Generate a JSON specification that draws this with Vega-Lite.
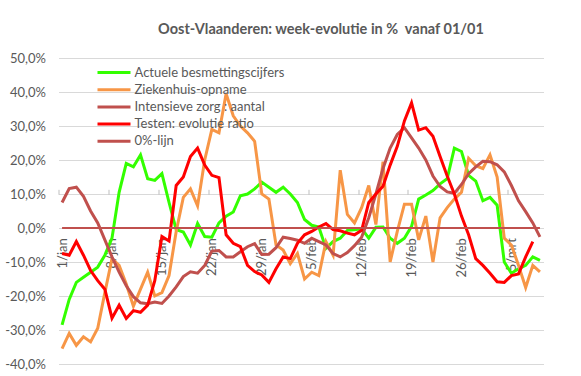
{
  "$schema": "https://vega.github.io/schema/vega-lite/v6.json",
  "width": 485,
  "height": 306,
  "autosize": "none",
  "padding": {"left": 58.5, "top": 58, "right": 37.5, "bottom": 12},
  "background": "white",
  "config": {"font": "Lato", "view": {"stroke": null}},
  "title": {"text": "Oost-Vlaanderen: week-evolutie in %\u00a0 vanaf 01/01", "fontSize": 14.5, "fontWeight": "bold", "color": "#595959", "anchor": "middle", "offset": 15, "dx": 20, "font": "Lato"},
  "data": {"values": [
    {"datum":"1/jan","Actuele besmettingscijfers":-28.5,"Ziekenhuis-opname":-35.5,"Intensieve zorg : aantal":7.5,"Testen: evolutie ratio":-7.5,"0%-lijn":0},
    {"datum":"2/jan","Actuele besmettingscijfers":-21,"Ziekenhuis-opname":-31,"Intensieve zorg : aantal":11.6,"Testen: evolutie ratio":-8,"0%-lijn":0},
    {"datum":"3/jan","Actuele besmettingscijfers":-16,"Ziekenhuis-opname":-34.5,"Intensieve zorg : aantal":12,"Testen: evolutie ratio":-4,"0%-lijn":0},
    {"datum":"4/jan","Actuele besmettingscijfers":-14.5,"Ziekenhuis-opname":-32,"Intensieve zorg : aantal":9.3,"Testen: evolutie ratio":-8,"0%-lijn":0},
    {"datum":"5/jan","Actuele besmettingscijfers":-13,"Ziekenhuis-opname":-33.5,"Intensieve zorg : aantal":5,"Testen: evolutie ratio":-12.5,"0%-lijn":0},
    {"datum":"6/jan","Actuele besmettingscijfers":-11.5,"Ziekenhuis-opname":-29.5,"Intensieve zorg : aantal":1.5,"Testen: evolutie ratio":-15.5,"0%-lijn":0},
    {"datum":"7/jan","Actuele besmettingscijfers":-8,"Ziekenhuis-opname":-19,"Intensieve zorg : aantal":-3.5,"Testen: evolutie ratio":-18,"0%-lijn":0},
    {"datum":"8/jan","Actuele besmettingscijfers":-3,"Ziekenhuis-opname":-9,"Intensieve zorg : aantal":-8.5,"Testen: evolutie ratio":-26.5,"0%-lijn":0},
    {"datum":"9/jan","Actuele besmettingscijfers":10.5,"Ziekenhuis-opname":-11,"Intensieve zorg : aantal":-13,"Testen: evolutie ratio":-22.7,"0%-lijn":0},
    {"datum":"10/jan","Actuele besmettingscijfers":19,"Ziekenhuis-opname":-16.5,"Intensieve zorg : aantal":-17,"Testen: evolutie ratio":-26.6,"0%-lijn":0},
    {"datum":"11/jan","Actuele besmettingscijfers":18,"Ziekenhuis-opname":-23,"Intensieve zorg : aantal":-20.2,"Testen: evolutie ratio":-24.3,"0%-lijn":0},
    {"datum":"12/jan","Actuele besmettingscijfers":21.5,"Ziekenhuis-opname":-18,"Intensieve zorg : aantal":-22,"Testen: evolutie ratio":-24.8,"0%-lijn":0},
    {"datum":"13/jan","Actuele besmettingscijfers":14.5,"Ziekenhuis-opname":-13,"Intensieve zorg : aantal":-22.3,"Testen: evolutie ratio":-22.7,"0%-lijn":0},
    {"datum":"14/jan","Actuele besmettingscijfers":14,"Ziekenhuis-opname":-20,"Intensieve zorg : aantal":-21.8,"Testen: evolutie ratio":-15.5,"0%-lijn":0},
    {"datum":"15/jan","Actuele besmettingscijfers":16,"Ziekenhuis-opname":-19,"Intensieve zorg : aantal":-22.2,"Testen: evolutie ratio":-2.5,"0%-lijn":0},
    {"datum":"16/jan","Actuele besmettingscijfers":7.5,"Ziekenhuis-opname":-14,"Intensieve zorg : aantal":-20,"Testen: evolutie ratio":-3.8,"0%-lijn":0},
    {"datum":"17/jan","Actuele besmettingscijfers":-0.5,"Ziekenhuis-opname":-1,"Intensieve zorg : aantal":-17.3,"Testen: evolutie ratio":12.5,"0%-lijn":0},
    {"datum":"18/jan","Actuele besmettingscijfers":-1.2,"Ziekenhuis-opname":9,"Intensieve zorg : aantal":-14.3,"Testen: evolutie ratio":15,"0%-lijn":0},
    {"datum":"19/jan","Actuele besmettingscijfers":-5,"Ziekenhuis-opname":11.5,"Intensieve zorg : aantal":-12.9,"Testen: evolutie ratio":21,"0%-lijn":0},
    {"datum":"20/jan","Actuele besmettingscijfers":1.3,"Ziekenhuis-opname":6.5,"Intensieve zorg : aantal":-13.3,"Testen: evolutie ratio":23.5,"0%-lijn":0},
    {"datum":"21/jan","Actuele besmettingscijfers":-2.5,"Ziekenhuis-opname":20,"Intensieve zorg : aantal":-11,"Testen: evolutie ratio":18.5,"0%-lijn":0},
    {"datum":"22/jan","Actuele besmettingscijfers":-2.7,"Ziekenhuis-opname":29,"Intensieve zorg : aantal":-6.8,"Testen: evolutie ratio":15.5,"0%-lijn":0},
    {"datum":"23/jan","Actuele besmettingscijfers":1.5,"Ziekenhuis-opname":28,"Intensieve zorg : aantal":-6.6,"Testen: evolutie ratio":14.8,"0%-lijn":0},
    {"datum":"24/jan","Actuele besmettingscijfers":3.5,"Ziekenhuis-opname":39.5,"Intensieve zorg : aantal":-8.5,"Testen: evolutie ratio":-2,"0%-lijn":0},
    {"datum":"25/jan","Actuele besmettingscijfers":4.7,"Ziekenhuis-opname":33,"Intensieve zorg : aantal":-8.5,"Testen: evolutie ratio":-4.5,"0%-lijn":0},
    {"datum":"26/jan","Actuele besmettingscijfers":9.5,"Ziekenhuis-opname":30,"Intensieve zorg : aantal":-7,"Testen: evolutie ratio":-5.5,"0%-lijn":0},
    {"datum":"27/jan","Actuele besmettingscijfers":10,"Ziekenhuis-opname":28,"Intensieve zorg : aantal":-5.5,"Testen: evolutie ratio":-11,"0%-lijn":0},
    {"datum":"28/jan","Actuele besmettingscijfers":11.5,"Ziekenhuis-opname":25.5,"Intensieve zorg : aantal":-4.6,"Testen: evolutie ratio":-12.8,"0%-lijn":0},
    {"datum":"29/jan","Actuele besmettingscijfers":13.5,"Ziekenhuis-opname":10,"Intensieve zorg : aantal":-7.8,"Testen: evolutie ratio":-13.8,"0%-lijn":0},
    {"datum":"30/jan","Actuele besmettingscijfers":12,"Ziekenhuis-opname":8.5,"Intensieve zorg : aantal":-7.7,"Testen: evolutie ratio":-16,"0%-lijn":0},
    {"datum":"31/jan","Actuele besmettingscijfers":10.5,"Ziekenhuis-opname":-5,"Intensieve zorg : aantal":-5.8,"Testen: evolutie ratio":-12,"0%-lijn":0},
    {"datum":"1/feb","Actuele besmettingscijfers":12,"Ziekenhuis-opname":-6.5,"Intensieve zorg : aantal":-2.7,"Testen: evolutie ratio":-8.5,"0%-lijn":0},
    {"datum":"2/feb","Actuele besmettingscijfers":10,"Ziekenhuis-opname":-10.5,"Intensieve zorg : aantal":-3.1,"Testen: evolutie ratio":-9,"0%-lijn":0},
    {"datum":"3/feb","Actuele besmettingscijfers":7.5,"Ziekenhuis-opname":-7.5,"Intensieve zorg : aantal":-3.6,"Testen: evolutie ratio":-4.5,"0%-lijn":0},
    {"datum":"4/feb","Actuele besmettingscijfers":2.5,"Ziekenhuis-opname":-15,"Intensieve zorg : aantal":-4.5,"Testen: evolutie ratio":-2,"0%-lijn":0},
    {"datum":"5/feb","Actuele besmettingscijfers":0.8,"Ziekenhuis-opname":-13,"Intensieve zorg : aantal":-3,"Testen: evolutie ratio":-1,"0%-lijn":0},
    {"datum":"6/feb","Actuele besmettingscijfers":0.3,"Ziekenhuis-opname":-14,"Intensieve zorg : aantal":-4,"Testen: evolutie ratio":0.3,"0%-lijn":0},
    {"datum":"7/feb","Actuele besmettingscijfers":-6,"Ziekenhuis-opname":-4,"Intensieve zorg : aantal":-5,"Testen: evolutie ratio":1.3,"0%-lijn":0},
    {"datum":"8/feb","Actuele besmettingscijfers":-4,"Ziekenhuis-opname":-8,"Intensieve zorg : aantal":-7.5,"Testen: evolutie ratio":-0.5,"0%-lijn":0},
    {"datum":"9/feb","Actuele besmettingscijfers":-3,"Ziekenhuis-opname":17,"Intensieve zorg : aantal":-8.5,"Testen: evolutie ratio":-0.8,"0%-lijn":0},
    {"datum":"10/feb","Actuele besmettingscijfers":-0.7,"Ziekenhuis-opname":4,"Intensieve zorg : aantal":-7.2,"Testen: evolutie ratio":-1.5,"0%-lijn":0},
    {"datum":"11/feb","Actuele besmettingscijfers":-0.5,"Ziekenhuis-opname":1.5,"Intensieve zorg : aantal":-5.2,"Testen: evolutie ratio":-2,"0%-lijn":0},
    {"datum":"12/feb","Actuele besmettingscijfers":-0.2,"Ziekenhuis-opname":6,"Intensieve zorg : aantal":-2.7,"Testen: evolutie ratio":-0.7,"0%-lijn":0},
    {"datum":"13/feb","Actuele besmettingscijfers":-3,"Ziekenhuis-opname":12.5,"Intensieve zorg : aantal":3,"Testen: evolutie ratio":7.5,"0%-lijn":0},
    {"datum":"14/feb","Actuele besmettingscijfers":0.2,"Ziekenhuis-opname":1,"Intensieve zorg : aantal":10,"Testen: evolutie ratio":10,"0%-lijn":0},
    {"datum":"15/feb","Actuele besmettingscijfers":0.3,"Ziekenhuis-opname":19.5,"Intensieve zorg : aantal":17.5,"Testen: evolutie ratio":12.3,"0%-lijn":0},
    {"datum":"16/feb","Actuele besmettingscijfers":-3,"Ziekenhuis-opname":-10,"Intensieve zorg : aantal":23.5,"Testen: evolutie ratio":18.5,"0%-lijn":0},
    {"datum":"17/feb","Actuele besmettingscijfers":-4.5,"Ziekenhuis-opname":-1,"Intensieve zorg : aantal":27.5,"Testen: evolutie ratio":24,"0%-lijn":0},
    {"datum":"18/feb","Actuele besmettingscijfers":-3,"Ziekenhuis-opname":7,"Intensieve zorg : aantal":29.5,"Testen: evolutie ratio":31.5,"0%-lijn":0},
    {"datum":"19/feb","Actuele besmettingscijfers":0.5,"Ziekenhuis-opname":7,"Intensieve zorg : aantal":26.5,"Testen: evolutie ratio":36.8,"0%-lijn":0},
    {"datum":"20/feb","Actuele besmettingscijfers":8.5,"Ziekenhuis-opname":-3.5,"Intensieve zorg : aantal":23.5,"Testen: evolutie ratio":28.8,"0%-lijn":0},
    {"datum":"21/feb","Actuele besmettingscijfers":9.7,"Ziekenhuis-opname":3.5,"Intensieve zorg : aantal":20,"Testen: evolutie ratio":29.5,"0%-lijn":0},
    {"datum":"22/feb","Actuele besmettingscijfers":11,"Ziekenhuis-opname":-10,"Intensieve zorg : aantal":15.3,"Testen: evolutie ratio":27,"0%-lijn":0},
    {"datum":"23/feb","Actuele besmettingscijfers":13,"Ziekenhuis-opname":3,"Intensieve zorg : aantal":12.2,"Testen: evolutie ratio":21,"0%-lijn":0},
    {"datum":"24/feb","Actuele besmettingscijfers":14.5,"Ziekenhuis-opname":6,"Intensieve zorg : aantal":10.6,"Testen: evolutie ratio":15.3,"0%-lijn":0},
    {"datum":"25/feb","Actuele besmettingscijfers":23.5,"Ziekenhuis-opname":8.5,"Intensieve zorg : aantal":10.2,"Testen: evolutie ratio":10,"0%-lijn":0},
    {"datum":"26/feb","Actuele besmettingscijfers":22.5,"Ziekenhuis-opname":10.5,"Intensieve zorg : aantal":12.8,"Testen: evolutie ratio":3.5,"0%-lijn":0},
    {"datum":"27/feb","Actuele besmettingscijfers":15.5,"Ziekenhuis-opname":20.5,"Intensieve zorg : aantal":16,"Testen: evolutie ratio":-2,"0%-lijn":0},
    {"datum":"28/feb","Actuele besmettingscijfers":13.8,"Ziekenhuis-opname":18.3,"Intensieve zorg : aantal":18,"Testen: evolutie ratio":-9,"0%-lijn":0},
    {"datum":"1/mrt","Actuele besmettingscijfers":8,"Ziekenhuis-opname":17.5,"Intensieve zorg : aantal":19.6,"Testen: evolutie ratio":-11,"0%-lijn":0},
    {"datum":"2/mrt","Actuele besmettingscijfers":9,"Ziekenhuis-opname":21.5,"Intensieve zorg : aantal":19.5,"Testen: evolutie ratio":-13.3,"0%-lijn":0},
    {"datum":"3/mrt","Actuele besmettingscijfers":6.7,"Ziekenhuis-opname":15,"Intensieve zorg : aantal":18.6,"Testen: evolutie ratio":-15.8,"0%-lijn":0},
    {"datum":"4/mrt","Actuele besmettingscijfers":-10,"Ziekenhuis-opname":-3,"Intensieve zorg : aantal":16.5,"Testen: evolutie ratio":-16,"0%-lijn":0},
    {"datum":"5/mrt","Actuele besmettingscijfers":-13.3,"Ziekenhuis-opname":-5,"Intensieve zorg : aantal":12.5,"Testen: evolutie ratio":-14,"0%-lijn":0},
    {"datum":"6/mrt","Actuele besmettingscijfers":-12,"Ziekenhuis-opname":-11,"Intensieve zorg : aantal":8,"Testen: evolutie ratio":-13.5,"0%-lijn":0},
    {"datum":"7/mrt","Actuele besmettingscijfers":-11,"Ziekenhuis-opname":-17.5,"Intensieve zorg : aantal":4.8,"Testen: evolutie ratio":-8.5,"0%-lijn":0},
    {"datum":"8/mrt","Actuele besmettingscijfers":-8.5,"Ziekenhuis-opname":-11,"Intensieve zorg : aantal":1.5,"Testen: evolutie ratio":-4,"0%-lijn":0},
    {"datum":"9/mrt","Actuele besmettingscijfers":-9.5,"Ziekenhuis-opname":-12.9,"Intensieve zorg : aantal":-2.6,"Testen: evolutie ratio":null,"0%-lijn":0}
  ]},
  "transform": [
    {"fold": ["Actuele besmettingscijfers", "Ziekenhuis-opname", "Intensieve zorg : aantal", "Testen: evolutie ratio", "0%-lijn"], "as": ["reeks", "waarde"]}
  ],
  "encoding": {
    "y": {
      "field": "waarde", "type": "quantitative",
      "scale": {"domain": [-40, 50], "nice": false, "zero": false},
      "axis": {"values": [-40, -30, -20, -10, 0, 10, 20, 30, 40, 50], "labelExpr": "datum.value + ',0%'", "domain": false, "ticks": false, "tickSize": 0, "labelPadding": 13, "labelFontSize": 13, "labelColor": "#595959", "labelFont": "Lato", "gridColor": "#D9D9D9", "gridWidth": 1, "title": null}
    },
    "color": {
      "field": "reeks", "type": "nominal",
      "scale": {"domain": ["Actuele besmettingscijfers", "Ziekenhuis-opname", "Intensieve zorg : aantal", "Testen: evolutie ratio", "0%-lijn"], "range": ["#33FF00", "#F79646", "#C0504D", "#FF0000", "#C0504D"]},
      "legend": {"orient": "none", "legendX": 48, "legendY": 7, "title": null, "symbolType": "M-2.75,0H2.75", "symbolSize": 144, "symbolStrokeWidth": 3, "labelFont": "Lato", "labelFontSize": 13, "labelColor": "#595959", "labelOffset": 13, "rowPadding": 2.2, "labelLimit": 300, "padding": 0}
    }
  },
  "layer": [
    {
      "transform": [{"filter": "datum.reeks !== '0%-lijn'"}],
      "mark": {"type": "line", "strokeWidth": 3},
      "encoding": {
        "x": {"field": "datum", "type": "ordinal", "sort": null, "scale": {"type": "point", "padding": 0.5},
          "axis": {"values": ["1/jan", "8/jan", "15/jan", "22/jan", "29/jan", "5/feb", "12/feb", "19/feb", "26/feb", "5/mrt"], "labelAngle": 270, "labelAlign": "right", "labelBaseline": "middle", "ticks": false, "tickSize": 0, "domain": false, "grid": false, "offset": -136.3, "labelPadding": 10, "labelFontSize": 13, "labelColor": "#595959", "labelFont": "Lato", "labelOverlap": false, "title": null}}
      }
    },
    {
      "transform": [{"filter": "datum.reeks === '0%-lijn'"}],
      "mark": {"type": "line", "strokeWidth": 2},
      "encoding": {
        "x": {"field": "datum", "type": "ordinal", "sort": null, "scale": {"type": "point", "padding": 0.5},
          "axis": {"values": ["1/jan", "8/jan", "15/jan", "22/jan", "29/jan", "5/feb", "12/feb", "19/feb", "26/feb", "5/mrt"], "labels": false, "ticks": true, "tickSize": 5, "tickColor": "#BFBFBF", "tickOffset": -3.57, "domain": false, "grid": false, "offset": -136.3, "title": null}}
      }
    }
  ],
  "resolve": {"axis": {"x": "independent"}}
}
